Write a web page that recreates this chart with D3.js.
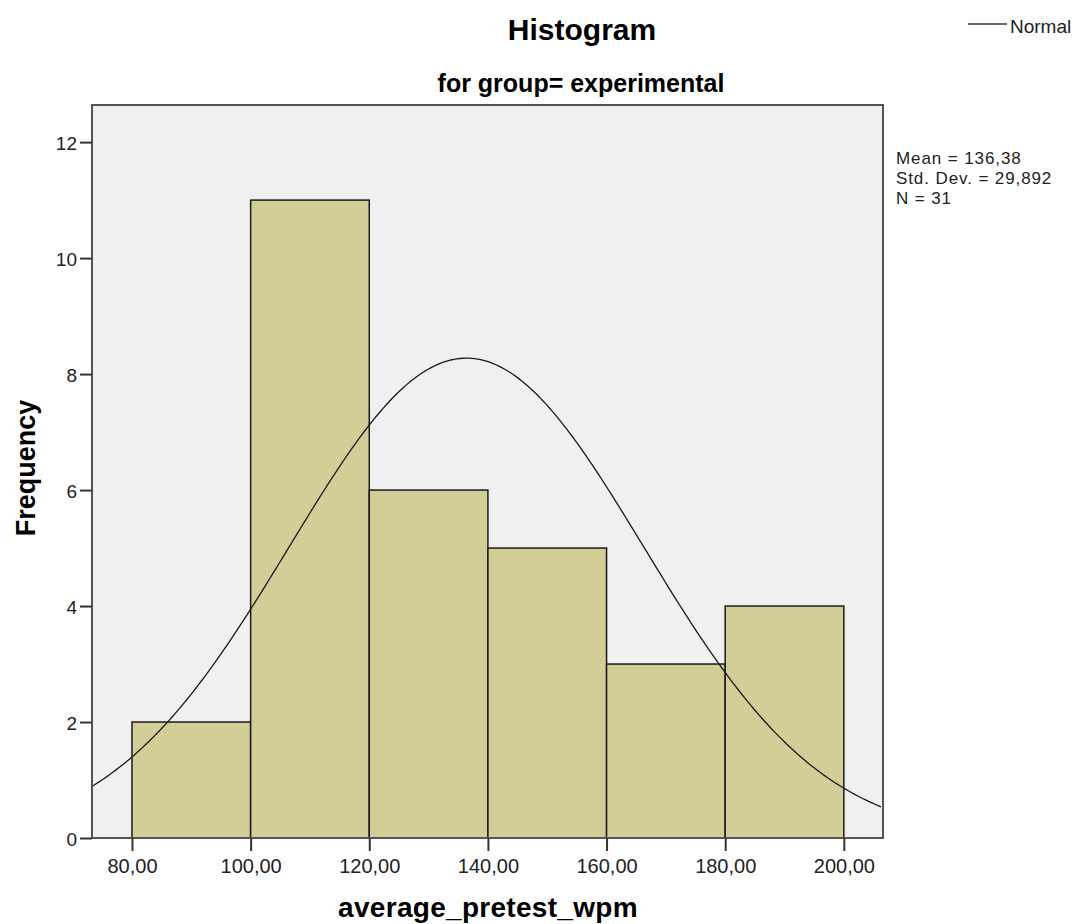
<!DOCTYPE html>
<html>
<head>
<meta charset="utf-8">
<script src="https://cdn.jsdelivr.net/npm/d3@7"></script>
<style>
body { margin: 0; background: #fff; }
text { font-family: Arial, "Liberation Sans", sans-serif; }
</style>
</head>
<body>
<script>
// histogram bins (lower edge) and counts
var binStarts = [80, 100, 120, 140, 160, 180];
var binWidth = 20;
var counts = [2, 11, 6, 5, 3, 4];
var xTicks = [80, 100, 120, 140, 160, 180, 200];
var yTicks = [0, 2, 4, 6, 8, 10, 12];
var stats = ["Mean = 136,38", "Std. Dev. = 29,892", "N = 31"];
var mean = 136.38, sd = 29.892, n = 31;

var W = 1075, H = 924;
var m = {left: 92, top: 105, right: 883, bottom: 838};

var svg = d3.select("body").append("svg")
  .attr("width", W).attr("height", H);

var x = d3.scaleLinear().domain([73.26, 206.6]).range([m.left, m.right]);
var y = d3.scaleLinear().domain([0, 12.64]).range([m.bottom, m.top]);

svg.append("rect")
  .attr("x", m.left).attr("y", m.top)
  .attr("width", m.right - m.left).attr("height", m.bottom - m.top)
  .style("fill", "#f0f0f0");

svg.append("defs").append("clipPath").attr("id", "clip")
  .append("rect")
  .attr("x", m.left).attr("y", m.top)
  .attr("width", m.right - m.left).attr("height", m.bottom - m.top);

var bars = binStarts.map(function(d, i){ return {x0: d, x1: d + binWidth, c: counts[i]}; });

svg.selectAll("rect.bar").data(bars).enter().append("rect")
  .attr("class", "bar")
  .attr("x", function(d){ return x(d.x0); })
  .attr("y", function(d){ return y(d.c); })
  .attr("width", function(d){ return x(d.x1) - x(d.x0); })
  .attr("height", function(d){ return y(0) - y(d.c); })
  .style("fill", "#d3ce97")
  .style("stroke", "#1a1a1a")
  .style("stroke-width", 1.5);

// normal curve scaled to counts
var pts = d3.range(73.26, 206.7, 0.5).map(function(v){
  var z = (v - mean) / sd;
  return [v, n * binWidth / (sd * Math.sqrt(2 * Math.PI)) * Math.exp(-0.5 * z * z)];
});
svg.append("path")
  .datum(pts)
  .attr("clip-path", "url(#clip)")
  .attr("d", d3.line().x(function(d){ return x(d[0]); }).y(function(d){ return y(d[1]); }))
  .style("fill", "none")
  .style("stroke", "#1a1a1a")
  .style("stroke-width", 1.3);

// frame
svg.append("rect")
  .attr("x", m.left).attr("y", m.top)
  .attr("width", m.right - m.left).attr("height", m.bottom - m.top)
  .style("fill", "none")
  .style("stroke", "#555")
  .style("stroke-width", 2);

var xAxis = svg.append("g")
  .attr("transform", "translate(0," + m.bottom + ")")
  .call(d3.axisBottom(x).tickValues(xTicks).tickSize(13).tickSizeOuter(0)
    .tickFormat(function(d){ return d3.format(".2f")(d).replace(".", ","); }));
xAxis.select(".domain").remove();
xAxis.selectAll("line").style("stroke", "#333").style("stroke-width", 2);
xAxis.selectAll("text").style("font-size", "20px").style("fill", "#222")
  .attr("y", 35).attr("dy", 0);

var yAxis = svg.append("g")
  .attr("transform", "translate(" + m.left + ",0)")
  .call(d3.axisLeft(y).tickValues(yTicks).tickSize(12).tickSizeOuter(0));
yAxis.select(".domain").remove();
yAxis.selectAll("line").style("stroke", "#333").style("stroke-width", 2);
yAxis.selectAll("text").style("font-size", "19px").style("fill", "#222")
  .attr("x", -15).attr("dy", "0.38em");

svg.append("text").attr("x", 582).attr("y", 40)
  .attr("text-anchor", "middle")
  .style("font-size", "30px").style("font-weight", "bold")
  .text("Histogram");

svg.append("text").attr("x", 581).attr("y", 92)
  .attr("text-anchor", "middle")
  .style("font-size", "25px").style("font-weight", "bold")
  .text("for group= experimental");

svg.append("text")
  .attr("transform", "translate(35,468) rotate(-90)")
  .attr("text-anchor", "middle")
  .style("font-size", "27px").style("font-weight", "bold")
  .text("Frequency");

svg.append("text").attr("x", 488).attr("y", 917)
  .attr("text-anchor", "middle")
  .style("font-size", "28px").style("font-weight", "bold")
  .style("letter-spacing", "0.3px")
  .text("average_pretest_wpm");

// legend
svg.append("line").attr("x1", 968).attr("x2", 1007).attr("y1", 24).attr("y2", 24)
  .style("stroke", "#333").style("stroke-width", 1.5);
svg.append("text").attr("x", 1010).attr("y", 33)
  .style("font-size", "19px").style("fill", "#222")
  .text("Normal");

svg.selectAll("text.stat").data(stats).enter().append("text")
  .attr("class", "stat")
  .attr("x", 896)
  .attr("y", function(d, i){ return 164 + i * 20; })
  .style("font-size", "17px").style("fill", "#222")
  .style("letter-spacing", "0.9px")
  .text(function(d){ return d; });
</script>
</body>
</html>
